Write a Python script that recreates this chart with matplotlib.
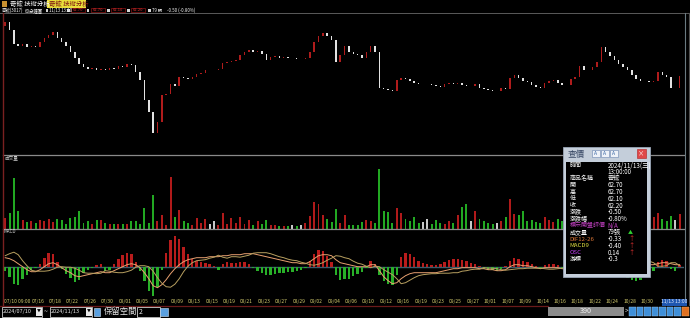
import matplotlib
matplotlib.use('Agg')
import matplotlib.pyplot as plt
from matplotlib.patches import Rectangle
from matplotlib.lines import Line2D
from matplotlib.transforms import blended_transform_factory
import numpy as np

plt.rcParams['font.family'] = ['Noto Sans CJK TC', 'DejaVu Sans']

# ---------------- data (60-min chart, sampled two bars per trading day) ----------------
first_open = 70.9
closes = [71.5, 70.3, 68.2, 67.9, 68.2, 67.75, 67.9, 67.75, 68.5, 69.1,
          69.55, 70.0, 69.1, 68.5, 67.9, 67.0, 66.1, 65.2, 64.75, 64.45,
          64.6, 64.3, 64.45, 64.3, 64.6, 64.45, 64.9, 64.75, 65.2, 65.05,
          64.0, 62.8, 59.8, 58.0, 54.85, 56.5, 60.55, 60.7, 62.2, 61.9,
          63.25, 63.1, 62.95, 63.25, 63.7, 63.85, 64.3, 64.3, 64.3, 64.45,
          65.35, 65.5, 65.65, 65.8, 66.55, 67.0, 67.3, 67.0, 67.15, 66.7,
          65.8, 66.25, 66.4, 66.1, 66.25, 66.1, 66.1, 65.95, 65.95, 66.1,
          67.0, 68.5, 69.4, 69.85, 69.4, 68.8, 65.5, 66.55, 67.9, 67.0,
          66.7, 66.55, 66.1, 67.0, 67.9, 67.0, 61.6, 61.45, 61.3, 61.15,
          62.8, 63.1, 62.95, 62.65, 62.35, 62.2, 62.2, 62.2, 62.05, 61.9,
          61.75, 62.2, 62.35, 62.2, 62.35, 62.05, 61.9, 61.9, 62.2, 61.6,
          61.45, 61.3, 61.15, 61.15, 61.6, 61.45, 63.1, 63.55, 63.1, 62.65,
          62.5, 62.05, 61.75, 61.6, 62.35, 62.65, 62.8, 62.35, 62.05, 62.05,
          62.95, 63.25, 64.9, 64.3, 64.3, 64.75, 65.5, 67.75, 67.0, 66.4,
          65.8, 65.2, 64.75, 64.3, 63.55, 62.95, 62.65, 62.65, 62.5, 62.65,
          64.0, 63.55, 63.25, 61.6, 61.6, 63.4]

volume = [11, 16, 50, 18, 9, 7, 8, 6, 9, 8,
          10, 7, 10, 9, 5, 11, 12, 18, 6, 8,
          5, 9, 9, 6, 5, 5, 5, 5, 5, 8,
          8, 5, 21, 6, 34, 8, 14, 4, 51, 12,
          19, 8, 6, 4, 11, 6, 10, 5, 8, 4,
          16, 5, 11, 6, 12, 5, 9, 4, 8, 5,
          9, 4, 4, 3, 3, 3, 4, 3, 4, 6,
          13, 27, 25, 14, 10, 7, 20, 6, 14, 4,
          4, 4, 7, 9, 8, 6, 59, 18, 17, 6,
          21, 16, 10, 8, 12, 6, 7, 10, 5, 9,
          6, 5, 8, 6, 14, 22, 25, 8, 18, 10,
          8, 6, 5, 6, 8, 12, 30, 15, 14, 18,
          8, 9, 7, 6, 12, 9, 7, 10, 8, 6,
          12, 10, 30, 14, 10, 12, 20, 35, 18, 14,
          12, 10, 9, 11, 12, 10, 8, 7, 9, 12,
          16, 10, 8, 13, 9, 15]  # hundreds of lots

# MACD values read in units of 0.05
osc_units = [-4, -10, -17, -18, -12, -8, -3, -1, 3, 9,
             14, 13, 5, -2, -7, -11, -15, -13, -6, -3,
             -1, 2, 3, -4, -3, 3, 8, 12, 14, 13,
             5, -4, -14, -24, -29, -20, -3, 14, 27, 31,
             28, 20, 13, 8, 6, 5, 4, 3, 1, -3,
             3, 5, 4, 4, 5, 5, 3, -1, -4, -6,
             -8, -8, -7, -6, -6, -5, -5, -4, -3, -1,
             6, 13, 17, 16, 11, 5, -8, -13, -12, -12,
             -9, -7, -5, -1, 6, 3, -8, -14, -17, -18,
             -8, 10, 14, 13, 10, 6, 4, 3, 2, 2,
             3, 5, 7, 8, 8, 7, 6, 4, 3, 1,
             -2, -3, -3, -4, -2, 1, 6, 9, 8, 6,
             5, 3, 1, -1, 2, 3, 3, 2, -1, -2,
             2, 5, 12, 13, 12, 12, 14, 20, 17, 11,
             4, -3, -8, -11, -13, -14, -13, -10, -7, -4,
             5, 7, 6, -2, -4, 2]
dif_units = [9, 8, 6, 3, 0, -3, -5, -5, -3, 0,
             3, 4, 2, -1, -4, -6, -9, -10, -9, -8,
             -7, -6, -5, -6, -6, -4, -2, 0, 2, 3,
             2, -1, -6, -12, -19, -21, -18, -13, -7, -2,
             2, 5, 7, 8, 9, 9, 9, 10, 10, 10,
             11, 11, 12, 12, 12, 13, 13, 13, 12, 11,
             10, 9, 8, 7, 6, 5, 4, 4, 3, 3,
             5, 8, 11, 12, 12, 11, 7, 4, 3, 2,
             1, 0, 0, 0, 2, 2, -4, -10, -14, -17,
             -16, -12, -9, -7, -6, -6, -6, -6, -6, -6,
             -5, -4, -3, -2, -2, -1, -1, -1, -1, -2,
             -2, -3, -3, -4, -4, -3, 0, 2, 2, 1,
             1, 0, -1, -2, -1, -1, -1, -1, -2, -2,
             -1, 1, 5, 6, 7, 8, 10, 14, 15, 14,
             12, 10, 8, 6, 5, 4, 3, 3, 2, 2,
             3, 4, 4, 3, 2, 2]

tick_days = [0, 4, 6, 8, 10, 12, 14, 16, 18, 20, 22, 24, 26, 28, 30, 32, 34, 36, 38,
             40, 42, 44, 46, 48, 50, 52, 54, 56, 58, 60, 62, 64, 66, 68, 70, 72, 74]
tick_labels = ['07/10 09:00', '07/16', '07/18', '07/22', '07/26', '07/30', '08/01', '08/05',
               '08/07', '08/09', '08/13', '08/15', '08/19', '08/21', '08/23', '08/27', '08/29',
               '09/02', '09/04', '09/06', '09/10', '09/12', '09/16', '09/19', '09/23', '09/25',
               '09/27', '10/01', '10/07', '10/09', '10/14', '10/16', '10/18', '10/22', '10/24',
               '10/28', '10/30']
bars_per_day = 2

info_labels = ['時間', '', '商品名稱', '開', '高', '低', '收', '漲跌', '漲跌幅',
               '標示開盤評價', '成交量', 'DIF12-26', 'MACD9', 'OSC', '游標']
info_values = ['2024/11/13(三)', '13:00:00', '奇鋐', '62.70', '62.70', '62.10', '62.20',
               '-0.50', '-0.80%', 'N/A', '79張', '-0.33', '-0.40', '0.14', '-0.3']

# ---------------- figure ----------------
W, H = 690, 318
fig = plt.figure(figsize=(W / 100, H / 100), dpi=100)
fig.patch.set_facecolor('black')


def rect_px(x0, y0, x1, y1):
    return [x0 / W, 1 - y1 / H, (x1 - x0) / W, (y1 - y0) / H]


def fig_line(x0, y0, x1, y1, color, lw=0.8):
    fig.add_artist(Line2D([x0 / W, x1 / W], [1 - y0 / H, 1 - y1 / H],
                          transform=fig.transFigure, color=color, lw=lw))


def fig_box(x0, y0, x1, y1, fc, ec='none', lw=0.6, z=5):
    fig.add_artist(Rectangle((x0 / W, 1 - y1 / H), (x1 - x0) / W, (y1 - y0) / H,
                             transform=fig.transFigure, facecolor=fc, edgecolor=ec,
                             lw=lw, zorder=z))


def fig_text(x, y, s, color='white', size=4.5, ha='left', va='center', z=6, **kw):
    fig.text(x / W, 1 - y / H, s, color=color, fontsize=size, ha=ha, va=va,
             zorder=z, **kw)


closes = np.array(closes)
n = len(closes)
idx = np.arange(n)
opens = np.concatenate([[first_open], closes[:-1]])
up = closes > opens
down = closes < opens
XL = (-0.5, n)

# main price panel
ax = fig.add_axes(rect_px(3, 14, 684, 155.5))
ax.set_facecolor('black')
body_bottom = np.minimum(opens, closes)
body_h = np.maximum(np.abs(closes - opens), 0.07)
candle_col = np.where(up, '#b01c1c', '#e2e2e2')
ax.bar(idx, body_h, bottom=body_bottom, width=0.34, color=candle_col, linewidth=0)
ax.set_xlim(*XL)
ax.set_ylim(51.475, 72.7)
ax.axis('off')

# volume panel
axv = fig.add_axes(rect_px(3, 155.5, 684, 228.5))
axv.set_facecolor('black')
vol_col = np.where(up, '#b01a1a', np.where(down, '#22a822', '#c8c8c8'))
axv.bar(idx, volume, width=0.45, color=vol_col, linewidth=0)
axv.set_xlim(*XL)
axv.set_ylim(0, 73)
axv.axis('off')

# MACD panel
axm = fig.add_axes(rect_px(3, 228.5, 684, 299))
axm.set_facecolor('black')
osc = np.array(osc_units) * 0.05
dif = np.array(dif_units) * 0.05
macd9 = dif - osc / 2
axm.axhline(0, color='#3c5c6c', lw=1.0, zorder=1)
axm.bar(idx, osc, width=0.55, color=np.where(osc >= 0, '#b81c1c', '#28b028'),
        linewidth=0, zorder=2)
axm.plot(idx, dif, color='#e8a070', lw=0.7, zorder=3)
axm.plot(idx, macd9, color='#b8a060', lw=0.7, zorder=3)
axm.set_xlim(*XL)
axm.set_ylim(-1.615, 1.91)
axm.axis('off')

# date labels
tr = blended_transform_factory(axm.transData, fig.transFigure)
for d, lab in zip(tick_days, tick_labels):
    xb = d * bars_per_day - 0.5
    if d == 0:
        axm.text(xb + 0.2, 1 - 302 / H, lab, transform=tr, color='#d8d070', fontsize=3.5,
                 ha='left', va='center', clip_on=False)
    else:
        axm.text(xb, 1 - 302 / H, lab, transform=tr, color='#d8d070', fontsize=3.5,
                 ha='center', va='center', clip_on=False)
fig_box(662, 298.5, 687, 305.5, '#1e56b0', z=6)
fig_text(674.5, 302, '11/13 13:00', color='#e8f0ff', size=3.5, ha='center', z=7)

# frame lines
fig_line(0, 12.8, 690, 12.8, '#5a5a5a', 0.7)
fig_line(3, 155.5, 684, 155.5, '#8a8a8a', 0.9)
fig_line(3, 228.7, 684, 228.7, '#8a8a8a', 0.9)
fig_line(2.8, 13, 2.8, 305, '#7a2020', 1.0)
fig_line(684.5, 13, 684.5, 299, '#6a7a80', 0.8)
fig_line(688.5, 13, 688.5, 305, '#505050', 0.8)
fig_line(0, 305.5, 548, 305.5, '#6a1a1a', 0.9)

# panel captions
fig_text(5, 158.5, '成交量', size=3.3, color='#d0d0d0')
fig_text(4, 231.5, 'MACD', size=3.3, color='#d0d0d0')

# title tabs
fig_box(2, 1.5, 7, 7, '#c89030', z=5)
fig_text(10, 4.2, '奇鋐 技術分析', size=4.6)
fig_box(47, 0.5, 86, 8, '#e8de3a', z=5)
fig_text(49, 4.2, '奇鋐 技術分析', size=4.6, color='#7a1010')

# info row
fig_text(2, 10.3, '奇鋐(3017)', size=3.2)
fig_text(25, 10.3, '60分鐘圖', size=3.2)
fig_box(45.5, 8.8, 48, 11.8, '#d0d0d0')
fig_text(49, 10.3, '11/13 13:00', size=3.1)
for xs, lab, val in [(67, '開', '62.70'), (87, '高', '62.70'), (107, '低', '62.10'),
                     (127, '收', '62.20')]:
    fig_box(xs, 8.6, xs + 2.5, 12, '#d8d8d8')
    fig_box(xs + 3.5, 8.4, xs + 18, 12.2, 'black', ec='#b01818', lw=0.4)
    fig_text(xs + 10.75, 10.3, val, size=3.0, color='#e03030', ha='center')
fig_box(148, 8.6, 150.5, 12, '#d8d8d8')
fig_text(152, 10.3, '79 張', size=3.1)
fig_text(167, 10.3, '-0.50 (-0.80%)', size=3.1)

# info window
fig_box(563, 147, 650, 277, '#c4ceda', ec='#9aa6b6', lw=0.6, z=8)
fig_box(566, 161.5, 647, 274, 'black', z=9)
fig_text(568, 154, '查價', size=6.2, color='#3a4a66', z=10)
for k, x0 in enumerate([592, 601, 610]):
    fig_box(x0, 150, x0 + 7.5, 157.5, '#eef2f8', ec='#6a86b0', lw=0.4, z=10)
    fig_text(x0 + 3.75, 153.8, 'A', size=3.6, color='#3060a0', ha='center', z=11)
fig_box(637, 149.5, 646, 158, '#e04848', ec='#b02020', lw=0.4, z=10)
fig_text(641.5, 153.7, '×', size=4.5, color='white', ha='center', z=11)

label_cols = {'標示開盤評價': '#c040c0', 'DIF12-26': '#e07838', 'MACD9': '#e0e040',
              'OSC': '#c040f0'}
val_cols = {'N/A': '#c040c0'}
row_y0, row_dy = 165.2, 6.72
for i, (lab, val) in enumerate(zip(info_labels, info_values)):
    y = row_y0 + i * row_dy
    fig_text(569.5, y, lab, size=4.3, color=label_cols.get(lab, 'white'), z=12)
    fig_text(607.5, y, val, size=4.5, color=val_cols.get(val, 'white'), z=12)
    if lab == '成交量':
        fig_text(628, y, '▲', size=3.6, color='#30d030', z=12)
    if lab in ('DIF12-26', 'MACD9', 'OSC'):
        fig_text(628, y, '↑', size=4.5, color='#e03030', z=12)

# bottom toolbar
for x0, x1, txt in [(2, 42, '2024/07/10'), (50, 92, '2024/11/13')]:
    fig_box(x0, 307, x1, 316.5, 'black', ec='#d0d0d0', lw=0.6)
    fig_text(x0 + 1.2, 311.8, txt, size=4.0, color='#e8e8e8')
    fig_box(x1 - 6.5, 308, x1 - 0.5, 315.5, '#e8e8e8')
    fig_text(x1 - 3.5, 311.8, '▼', size=2.8, color='black', ha='center', z=7)
fig_text(46, 311.8, '~', size=5, color='#e0e0e0', ha='center')
fig_box(93.5, 308, 100, 315.5, '#5aa0e0', ec='#d0e0f0', lw=0.4)
fig_text(104, 311.8, '保留空間', size=6.0, color='#e8e8e8')
fig_box(137, 307, 160, 316.5, 'black', ec='#d0d0d0', lw=0.6)
fig_text(139, 311.8, '2', size=5.0, color='#e8e8e8')
fig_box(160, 307.5, 168, 316, '#5aa0e0', ec='#d0e0f0', lw=0.4)
fig_box(548, 306.5, 624, 315.5, '#8c8c8c')
fig_text(586, 311.2, '390', size=5.2, color='#f0f0f0', ha='center')
fig_text(626.5, 311.2, '>', size=4.5, color='#e0e0e0', ha='center')
for k, x0 in enumerate([629, 636.5, 644, 651.5, 659, 666.5, 674]):
    fig_box(x0, 306.5, x0 + 6.5, 315.5, '#3f8fd8', ec='#9cc8f0', lw=0.3)
fig_box(682, 306.5, 689, 315.5, '#e07020', ec='#f0b070', lw=0.3)

fig.savefig('out.png', dpi=100, facecolor='black')
